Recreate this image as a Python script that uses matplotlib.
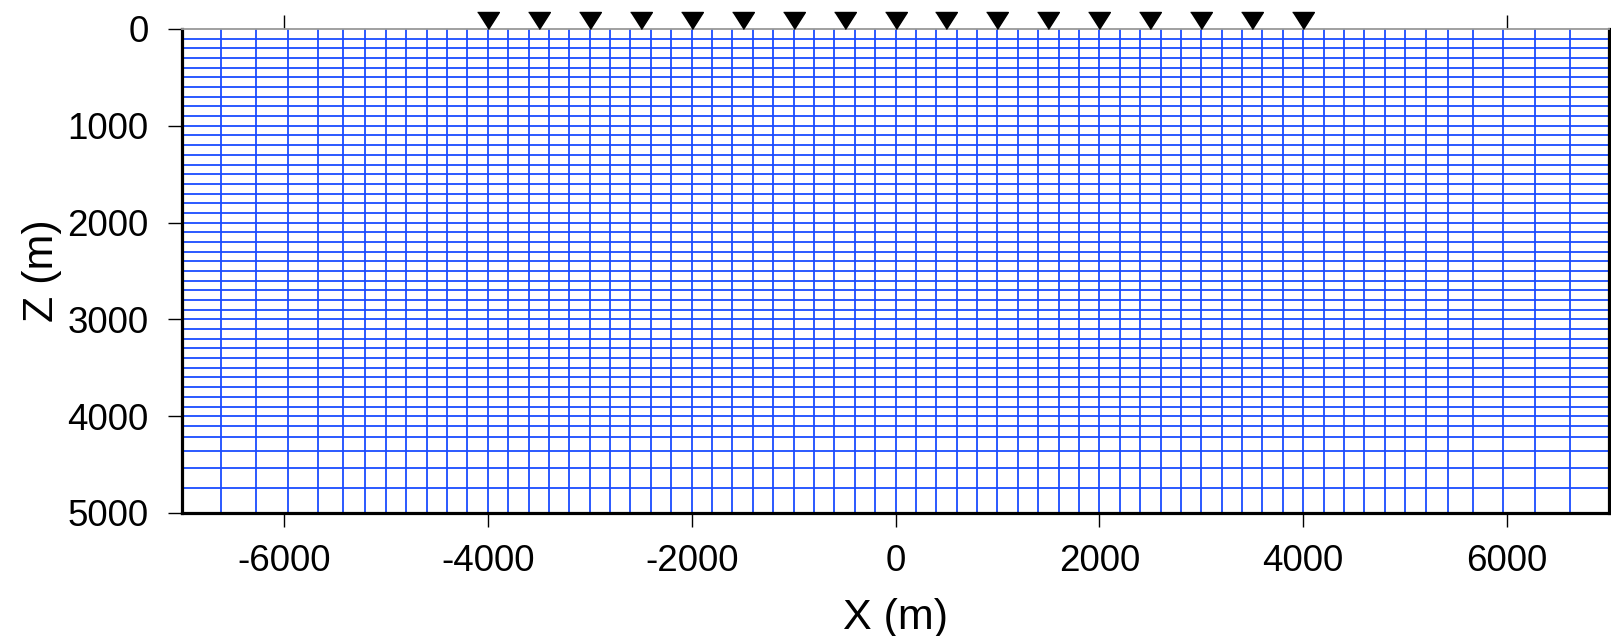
import matplotlib
matplotlib.use("Agg")
import matplotlib.pyplot as plt

# ---- data ----
x_mesh = [-6620, -6270, -5960, -5670, -5420, -5200,
          -5000, -4800, -4600, -4400, -4200, -4000, -3800, -3600, -3400, -3200,
          -3000, -2800, -2600, -2400, -2200, -2000, -1800, -1600, -1400, -1200,
          -1000, -800, -600, -400, -200, 0, 200, 400, 600, 800,
          1000, 1200, 1400, 1600, 1800, 2000, 2200, 2400, 2600, 2800,
          3000, 3200, 3400, 3600, 3800, 4000, 4200, 4400, 4600, 4800, 5000,
          5200, 5420, 5670, 5960, 6270, 6620]
z_mesh = [100, 200, 300, 400, 500, 600, 700, 800, 900, 1000,
          1100, 1200, 1300, 1400, 1500, 1600, 1700, 1800, 1900, 2000,
          2100, 2200, 2300, 2400, 2500, 2600, 2700, 2800, 2900, 3000,
          3100, 3200, 3300, 3400, 3500, 3600, 3700, 3800, 3900, 4000,
          4100, 4220, 4360, 4535, 4740]
stations = [-4000, -3500, -3000, -2500, -2000, -1500, -1000, -500, 0,
            500, 1000, 1500, 2000, 2500, 3000, 3500, 4000]
x_ticks = [-6000, -4000, -2000, 0, 2000, 4000, 6000]
z_ticks = [0, 1000, 2000, 3000, 4000, 5000]
x_range = [-7000, 7000]
z_range = [0, 5000]

plt.rcParams['font.family'] = ['Liberation Sans', 'DejaVu Sans']

fig = plt.figure(figsize=(16.11, 6.36), dpi=100)
ax = fig.add_axes([182/1611, 1 - 513/636, (1609 - 182)/1611, (513 - 29)/636])

mesh_color = '#1a4cff'
ax.vlines(x_mesh, z_range[0], z_range[1], color=mesh_color, lw=1.3, zorder=2)
ax.hlines(z_mesh, x_range[0], x_range[1], color=mesh_color, lw=1.3, zorder=2)

# station triangles: tip on the surface, body above the frame
tri = [(-0.64, 1.0), (0.64, 1.0), (0.0, 0.0)]
ax.plot(stations, [0] * len(stations), linestyle='none', marker=tri,
        markersize=24.5, color='black', clip_on=False, zorder=10)

ax.set_xlim(*x_range)
ax.set_ylim(z_range[1], z_range[0])
ax.set_xticks(x_ticks)
ax.set_xticklabels([str(v) for v in x_ticks])
ax.set_yticks(z_ticks)
ax.set_yticklabels([str(v) for v in z_ticks])

ax.tick_params(axis='both', direction='out', labelsize=26.5, width=1.0,
               length=10, color='black')
ax.tick_params(axis='x', top=True, labeltop=False, bottom=True, pad=12)
ax.tick_params(axis='y', right=False, pad=14)

for s in ['left', 'bottom', 'right']:
    ax.spines[s].set_linewidth(2.3)
    ax.spines[s].set_color('black')
ax.spines['top'].set_linewidth(1.3)
ax.spines['top'].set_color('#999999')

ax.set_xlabel('X (m)', fontsize=31, labelpad=14)
ax.set_ylabel('Z (m)', fontsize=31, labelpad=4)

fig.savefig('out.png', dpi=100)
